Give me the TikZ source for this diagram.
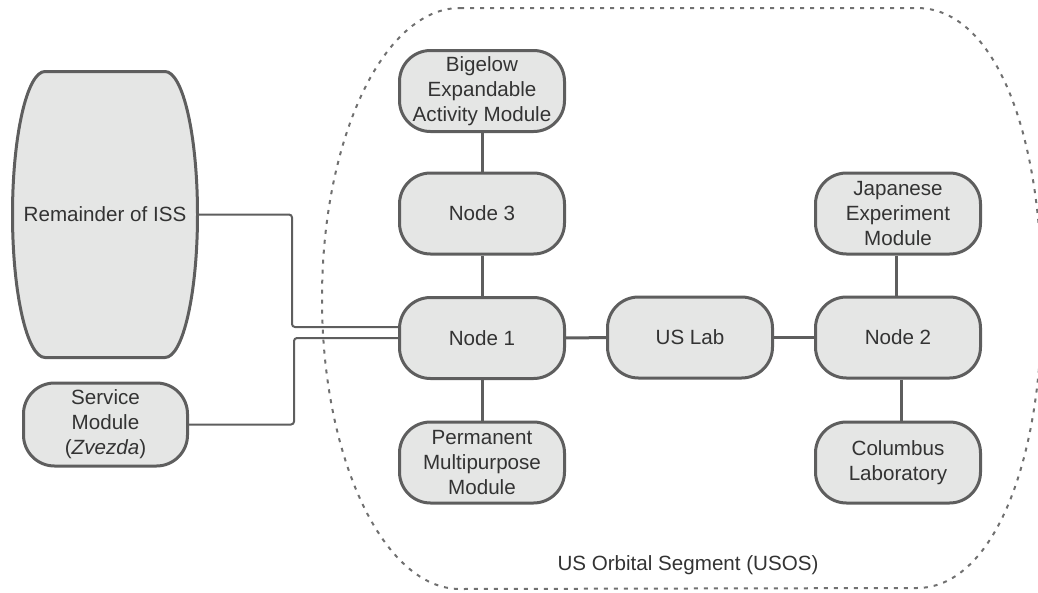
\documentclass[tikz,border=0pt]{standalone}
\usepackage{fontspec}
\setmainfont{Liberation Sans}
\usetikzlibrary{backgrounds}
\definecolor{boxfill}{HTML}{E5E6E5}
\definecolor{boxdraw}{HTML}{5E5E5E}
\definecolor{txt}{HTML}{333333}
\definecolor{dots}{HTML}{707070}
\begin{document}
\begin{tikzpicture}[x=1pt,y=-1pt,
  lbl/.style={text=txt, font=\fontsize{20.6}{25}\selectfont, align=center, inner sep=0pt},
  module/.style={lbl, rectangle, rounded corners=31pt, draw=boxdraw, fill=boxfill,
    line width=3pt, minimum width=165pt, minimum height=81pt},
  barrel/.style={draw=boxdraw, fill=boxfill, line width=3pt},
  link/.style={draw=boxdraw, line width=3pt},
  feed/.style={draw=boxdraw, line width=2pt, rounded corners=3pt},
  segment/.style={draw=dots, line width=2pt, dash pattern=on 4pt off 6pt}
]
\useasboundingbox (0,0) rectangle (1038,592);
% US Orbital Segment boundary
\draw[segment] (460,8) -- (917,8)
  .. controls (990,8) and (1042,120) .. (1042,300)
  .. controls (1042,470) and (990,588) .. (917,588)
  -- (460,589)
  .. controls (383.8,589) and (322,458.9) .. (322,298.5)
  .. controls (322,138.1) and (383.8,8) .. (460,8) -- cycle;
\node[lbl] (usos) at (688,565) {US Orbital Segment (USOS)};
% Remainder of ISS (barrel)
\draw[barrel] (45,71.5) -- (165,71.5)
  .. controls (182.9,71.5) and (197.5,135.5) .. (197.5,214.5)
  .. controls (197.5,293.5) and (182.9,357.5) .. (165,357.5)
  -- (45,357.5)
  .. controls (27.1,357.5) and (12.5,293.5) .. (12.5,214.5)
  .. controls (12.5,135.5) and (27.1,71.5) .. (45,71.5) -- cycle;
\node[lbl, minimum width=188pt, minimum height=287pt] (iss) at (105,214.5) {Remainder of ISS};
% modules
\node[module] (big) at (482,91) {Bigelow\\Expandable\\Activity Module};
\node[module] (n3) at (482,213.5) {Node 3};
\node[module] (n1) at (482,338) {Node 1};
\node[module] (pmm) at (482,462.5) {Permanent\\Multipurpose\\Module};
\node[module] (lab) at (690,337.5) {US Lab};
\node[module] (n2) at (898,337.5) {Node 2};
\node[module] (jem) at (898,213.5) {Japanese\\Experiment\\Module};
\node[module] (col) at (898,462.5) {Columbus\\Laboratory};
\node[module, minimum width=164pt, minimum height=83pt] (sm) at (105.5,424.5) {Service\\Module\\(\textit{Zvezda})};
% connectors
\begin{scope}[on background layer]
\draw[link] (big) -- (n3);
\draw[link] (n3) -- (n1);
\draw[link] (n1) -- (pmm);
\draw[link] (n1) -- (lab);
\draw[link] (lab) -- (n2);
\draw[link] ([xshift=-2pt]jem.south) -- ([xshift=-2pt]jem.south |- n2.north);
\draw[link] ([xshift=3pt]n2.south) -- ([xshift=3pt]n2.south |- col.north);
\draw[feed] (iss.east) -| ([xshift=-106pt,yshift=11pt]n1.west) -- ([yshift=11pt]n1.west);
\draw[feed] (sm.east) -| ([xshift=-104pt]n1.west) -- (n1.west);
\end{scope}
\end{tikzpicture}
\end{document}
